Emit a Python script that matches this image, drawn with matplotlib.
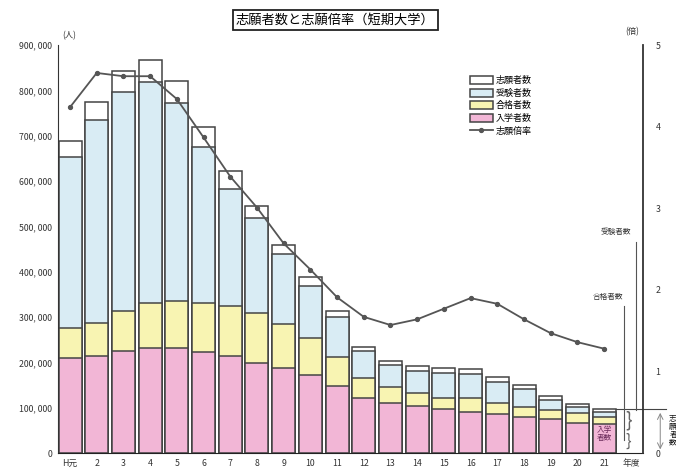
import matplotlib
matplotlib.use("Agg")
import matplotlib.pyplot as plt
from matplotlib.patches import Patch
from matplotlib.lines import Line2D
from matplotlib.ticker import FuncFormatter

plt.rcParams["font.family"] = ["Noto Sans CJK JP", "DejaVu Sans"]

years = ["H元", "2", "3", "4", "5", "6", "7", "8", "9", "10", "11",
         "12", "13", "14", "15", "16", "17", "18", "19", "20", "21"]

# 人
applicants = [689000, 774000, 843000, 867000, 821000, 719000, 622000, 545000, 459000, 388000, 313000,
              234000, 203000, 192000, 188000, 185000, 168000, 150000, 126000, 108000, 97000]
examinees = [653000, 735000, 796000, 818000, 772000, 675000, 582000, 518000, 439000, 368000, 300000,
             225000, 194000, 181000, 176000, 174000, 157000, 141000, 117000, 101000, 90000]
passers = [276000, 287000, 313000, 331000, 335000, 331000, 324000, 309000, 285000, 254000, 212000,
           165000, 146000, 132000, 121000, 121000, 110000, 101000, 95000, 88000, 79000]
enrolled = [210000, 214000, 225000, 232000, 232000, 223000, 214000, 199000, 188000, 172000, 148000,
            121000, 110000, 104000, 97000, 90000, 86000, 79000, 75000, 66000, 64000]
# 倍
ratio = [4.24, 4.66, 4.62, 4.62, 4.34, 3.87, 3.39, 3.01, 2.57, 2.25, 1.91,
         1.67, 1.57, 1.64, 1.77, 1.90, 1.83, 1.64, 1.47, 1.36, 1.28]

labels = ["志願者数", "受験者数", "合格者数", "入学者数", "志願倍率"]
colors = ["#ffffff", "#d9ecf4", "#f8f4b2", "#f2b6d6"]
edge = "#444444"

fig = plt.figure(figsize=(6.76, 4.71), dpi=100)
ax = fig.add_axes([0.0858, 0.038, 0.8652, 0.866])
x = list(range(1, len(years) + 1))

for vals, c in zip([applicants, examinees, passers, enrolled], colors):
    ax.bar(x, vals, width=0.86, color=c, edgecolor=edge, linewidth=1.1, zorder=2)

ax.set_xlim(0.55, 22.45)
ax.set_ylim(0, 900000)
ax.set_yticks(range(0, 900001, 100000))
ax.yaxis.set_major_formatter(FuncFormatter(lambda v, p: "0" if v == 0 else "{:,}".format(int(v)).replace(",", ", ")))
ax.set_xticks(x + [22])
ax.set_xticklabels(years + ["年度"])
ax.tick_params(axis="both", length=0, labelsize=6.3, colors="#333333", pad=4)
ax.spines["top"].set_visible(False)
ax.spines["right"].set_visible(False)
ax.spines["left"].set_color("#333333")
ax.spines["bottom"].set_color("#222222")

ax2 = ax.twinx()
ax2.plot(x, ratio, color="#555555", linewidth=1.3, marker="o", markersize=2.8, zorder=5)
ax2.set_ylim(0, 5)
ax2.set_yticks(range(0, 6))
ax2.tick_params(axis="y", length=0, labelsize=6.3, colors="#333333", pad=9)
for s in ["top", "left", "bottom"]:
    ax2.spines[s].set_visible(False)
ax2.spines["right"].set_color("#333333")
ax2.spines["right"].set_linewidth(1.3)

fig.text(0.092, 0.918, "(人)", fontsize=6, color="#333333")
fig.text(0.925, 0.928, "(倍)", fontsize=6, color="#333333")

fig.text(0.496, 0.958, "志願者数と志願倍率（短期大学）", fontsize=9.5, ha="center", va="center",
         bbox=dict(boxstyle="square,pad=0.25", facecolor="white", edgecolor="#222222", linewidth=1.3))

handles = [Patch(facecolor=c, edgecolor=edge, linewidth=1.1) for c in colors]
handles.append(Line2D([], [], color="#555555", linewidth=1.3, marker="o", markersize=2.8))
ax.legend(handles, labels, loc="upper left", bbox_to_anchor=(0.69, 0.945), frameon=False,
          fontsize=6.5, handlelength=2.6, handleheight=1.0, labelspacing=0.4, handletextpad=0.3)

# 凡例説明（右下）
ax.text(21, 42000, "入学\n者数", fontsize=5.5, color="#6a2a5a", ha="center", va="center",
        linespacing=1.0, zorder=6)
ax.plot([21.45, 23.3], [97000, 97000], color="#444444", linewidth=0.8, clip_on=False, zorder=6)
ax.plot([22.2, 22.2], [95000, 465000], color="#555555", linewidth=0.8, zorder=6)
ax.plot([21.75, 21.75], [28000, 325000], color="#555555", linewidth=0.8, zorder=6)
ax.text(21.45, 478000, "受験者数", fontsize=5.5, color="#333333", ha="center", va="bottom")
ax.text(21.15, 335000, "合格者数", fontsize=5.5, color="#333333", ha="center", va="bottom")
ax.text(21.9, 70000, "}", fontsize=14, color="#666666", ha="center", va="center", zorder=6)
ax.text(21.9, 25000, "}", fontsize=12, color="#666666", ha="center", va="center", zorder=6)
ax.annotate("", xy=(23.1, 2000), xytext=(23.1, 95000), annotation_clip=False,
            arrowprops=dict(arrowstyle="<->", color="#888888", linewidth=0.7))
fig.text(0.99, 0.085, "志\n願\n者\n数", fontsize=5.5, color="#111111", ha="left", va="center",
         linespacing=0.95)

fig.savefig("out.png", dpi=100)
